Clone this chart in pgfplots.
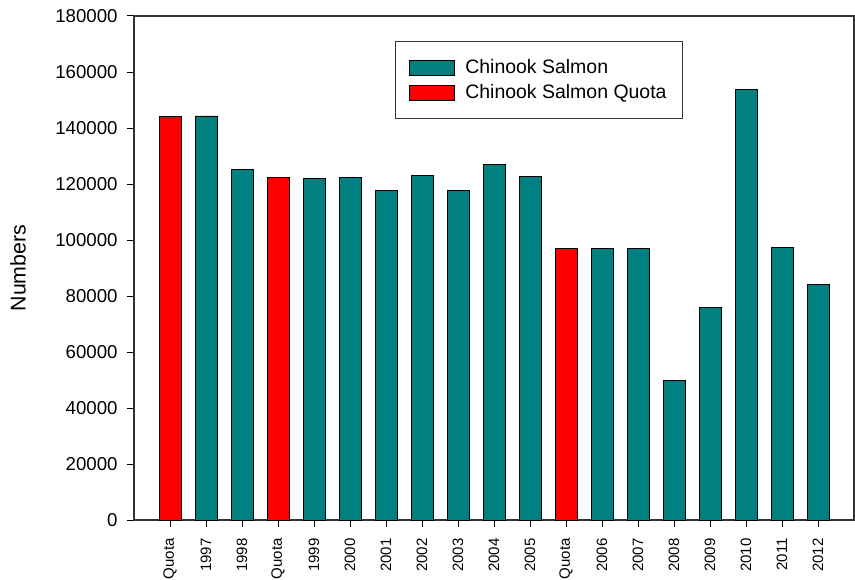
\documentclass[border=0pt]{standalone}
\usepackage{fontspec}
\setmainfont{Liberation Sans}
\usepackage{pgfplots}
\pgfplotsset{compat=1.18}
\usetikzlibrary{calc}
\definecolor{salmonteal}{RGB}{0,128,128}
\definecolor{quotared}{RGB}{255,0,0}

\begin{document}
\begin{tikzpicture}
\begin{axis}[
    scale only axis,
    width=540pt, height=378pt,
    xmin=-1, xmax=19,
    ymin=0, ymax=180000,
    ybar, bar width=16.5pt, bar shift=0pt,
    xtick={0,...,18},
    xticklabels={Quota,1997,1998,Quota,1999,2000,2001,2002,2003,2004,2005,Quota,2006,2007,2008,2009,2010,2011,2012},
    ytick={0,20000,...,180000},
    scaled y ticks=false,
    /pgf/number format/assume math mode=true,
    yticklabel style={/pgf/number format/fixed, /pgf/number format/precision=0,
        /pgf/number format/1000 sep={}, font=\fontsize{14}{16}\selectfont, xshift=-3.5pt},
    xticklabel style={rotate=90, anchor=east, font=\fontsize{11.25}{13}\selectfont, yshift=-0pt, xshift=-5pt},
    tick align=outside,
    xtick pos=bottom, ytick pos=left,
    major tick length=5.25pt,
    tick style={black, line width=0.75pt},
    axis line style={black!80, line width=1pt},
    ylabel={Numbers},
    every axis y label/.style={at={(axis description cs:-0.161,0.5)}, rotate=90, anchor=center,
        font=\fontsize{16}{18}\selectfont},
    legend cell align=left,
    legend image code/.code={\draw[#1] (0pt,-5.6pt) rectangle (33.75pt,5.6pt);},
    legend style={at={(0.3625,0.950)}, anchor=north west, draw=black!80, line width=0.75pt,
        font=\fontsize{14.6}{16}\selectfont, inner xsep=10pt, inner ysep=11.5pt, row sep=2.5pt,
        column sep=6pt},
]
\addplot[fill=salmonteal, draw=black, line width=0.6pt] coordinates {
    (1,144300) (2,125200) (4,121900) (5,122400) (6,117600) (7,123000)
    (8,117800) (9,127100) (10,122600) (12,96900) (13,96900) (14,50000)
    (15,75900) (16,153800) (17,97200) (18,84000)
};
\addplot[fill=quotared, draw=black, line width=0.6pt] coordinates {
    (0,144000) (3,122400) (11,96900)
};
\legend{Chinook Salmon, Chinook Salmon Quota}
\end{axis}
\pgfresetboundingbox
\path ($(current axis.south west)+(-100.5pt,-44.25pt)$) rectangle ($(current axis.north east)+(0.75pt,12pt)$);
\end{tikzpicture}
\end{document}
